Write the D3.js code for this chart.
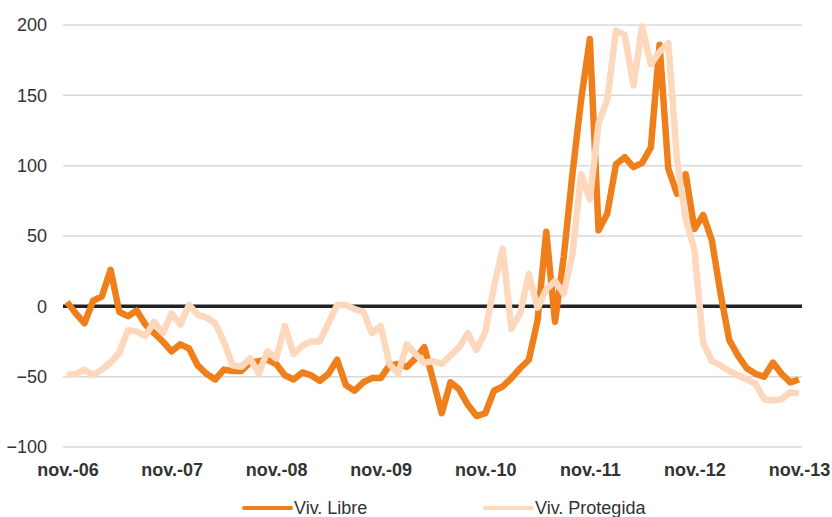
<!DOCTYPE html>
<html>
<head>
<meta charset="utf-8">
<script src="https://d3js.org/d3.v7.min.js"></script>
<style>
  body { margin: 0; background: #fff; }
  svg text { font-family: "Liberation Sans", Arial, Helvetica, sans-serif; fill: #333; }
</style>
</head>
<body>
<svg id="chart"></svg>
<script>
// etiquetas del eje X (una cada 12 meses, desde nov.-06)
const xLabels = ["nov.-06", "nov.-07", "nov.-08", "nov.-09", "nov.-10", "nov.-11", "nov.-12", "nov.-13"];
const yTicks = [-100, -50, 0, 50, 100, 150, 200];

// series mensuales nov.-06 .. nov.-13 (85 meses)
const vivLibre = [
  3, -5, -12, 4, 7, 26, -4, -7, -3, -13, -19, -25,
  -32, -27, -30, -42, -48, -52, -45, -46, -46, -40, -39, -38,
  -41, -49, -52, -47, -49, -53, -48, -38, -56, -60, -54, -51,
  -51, -42, -41, -43, -37, -29, -52, -76, -54, -59, -70, -78,
  -76, -60, -57, -51, -44, -38, -10, 53, -11, 35, 94, 147,
  190, 54, 66, 101, 106, 99, 102, 113, 186, 98, 80, 94,
  55, 65, 47, 9, -24, -35, -44, -48, -50, -40, -48, -54,
  -52
];
const vivProtegida = [
  -49, -48, -45, -49, -45, -40, -33, -17, -18, -21, -11, -19,
  -5, -13, 1, -6, -8, -12, -25, -42, -43, -37, -48, -32,
  -37, -14, -34, -28, -25, -25, -12, 1, 1, -2, -4, -19,
  -14, -41, -48, -27, -34, -40, -39, -41, -35, -29, -19, -31,
  -18, 14, 41, -16, -5, 23, -1, 12, 18, 9, 37, 94,
  76, 130, 147, 196, 193, 157, 199, 172, 181, 187, 104, 62,
  40, -26, -39, -42, -46, -49, -52, -55, -66, -67, -66, -61,
  -62
];
const seriesNames = ["Viv. Libre", "Viv. Protegida"];
const seriesColors = ["#EF7F1A", "#FDD8BC"];

(function() {
  const width = 832;
  const height = 517;

  const svg = d3.select("#chart")
      .attr("width", width)
      .attr("height", height);

  const x = d3.scaleLinear()
      .domain([0, vivLibre.length - 1])
      .range([67, 799]);

  const y = d3.scaleLinear()
      .domain([-100, 200])
      .range([447, 25]);

  // líneas de cuadrícula
  svg.append("g")
    .selectAll("line")
    .data(yTicks.filter(d => d !== 0))
    .enter()
    .append("line")
      .attr("x1", 63)
      .attr("x2", 802)
      .attr("y1", d => y(d))
      .attr("y2", d => y(d))
      .attr("stroke", "#d9d9d9")
      .attr("stroke-width", 1.5);

  // eje Y
  const yAxis = svg.append("g")
      .attr("transform", "translate(47,0)")
      .call(d3.axisLeft(y).tickValues(yTicks).tickSize(0).tickPadding(0));
  yAxis.select(".domain").remove();
  yAxis.selectAll("text")
      .style("font-size", "18px")
      .attr("fill", "#333");

  // eje X (etiquetas cada 12 meses)
  const xAxis = svg.append("g")
      .attr("transform", "translate(0,463)")
      .call(d3.axisBottom(x)
        .tickValues(xLabels.map((d, i) => i * 12))
        .tickFormat((d, i) => xLabels[i])
        .tickSize(0).tickPadding(0));
  xAxis.select(".domain").remove();
  xAxis.selectAll("text")
      .style("font-size", "18px")
      .style("font-weight", "bold")
      .attr("fill", "#222");
  xAxis.selectAll(".tick").filter((d, i) => i === 0)
      .attr("transform", "translate(" + (x(0) + 1) + ",0)");

  // línea del cero (debajo de las series)
  svg.append("line")
      .attr("x1", 63)
      .attr("x2", 802)
      .attr("y1", y(0))
      .attr("y2", y(0))
      .attr("stroke", "#222")
      .attr("stroke-width", 3.5);

  const line = d3.line()
      .x((d, i) => x(i))
      .y(d => y(d));

  // Libre primero, Protegida encima
  svg.append("path")
      .datum(vivLibre)
      .attr("d", line)
      .attr("fill", "none")
      .attr("stroke", seriesColors[0])
      .attr("stroke-width", 6.5)
      .attr("stroke-linejoin", "round");

  svg.append("path")
      .datum(vivProtegida)
      .attr("d", line)
      .attr("fill", "none")
      .attr("stroke", seriesColors[1])
      .attr("stroke-width", 6.5)
      .attr("stroke-linejoin", "round");

  // leyenda
  const legendX = [244, 485];
  const legend = svg.append("g")
    .selectAll("g")
    .data(seriesNames)
    .enter()
    .append("g")
      .attr("transform", (d, i) => "translate(" + legendX[i] + ",508)");
  legend.append("line")
      .attr("x1", 0)
      .attr("x2", 47)
      .attr("stroke", (d, i) => seriesColors[i])
      .attr("stroke-width", 4)
      .attr("stroke-linecap", "round");
  legend.append("text")
      .attr("x", 50)
      .attr("dy", "0.35em")
      .style("font-size", "18px")
      .text(d => d);
})();
</script>
</body>
</html>
